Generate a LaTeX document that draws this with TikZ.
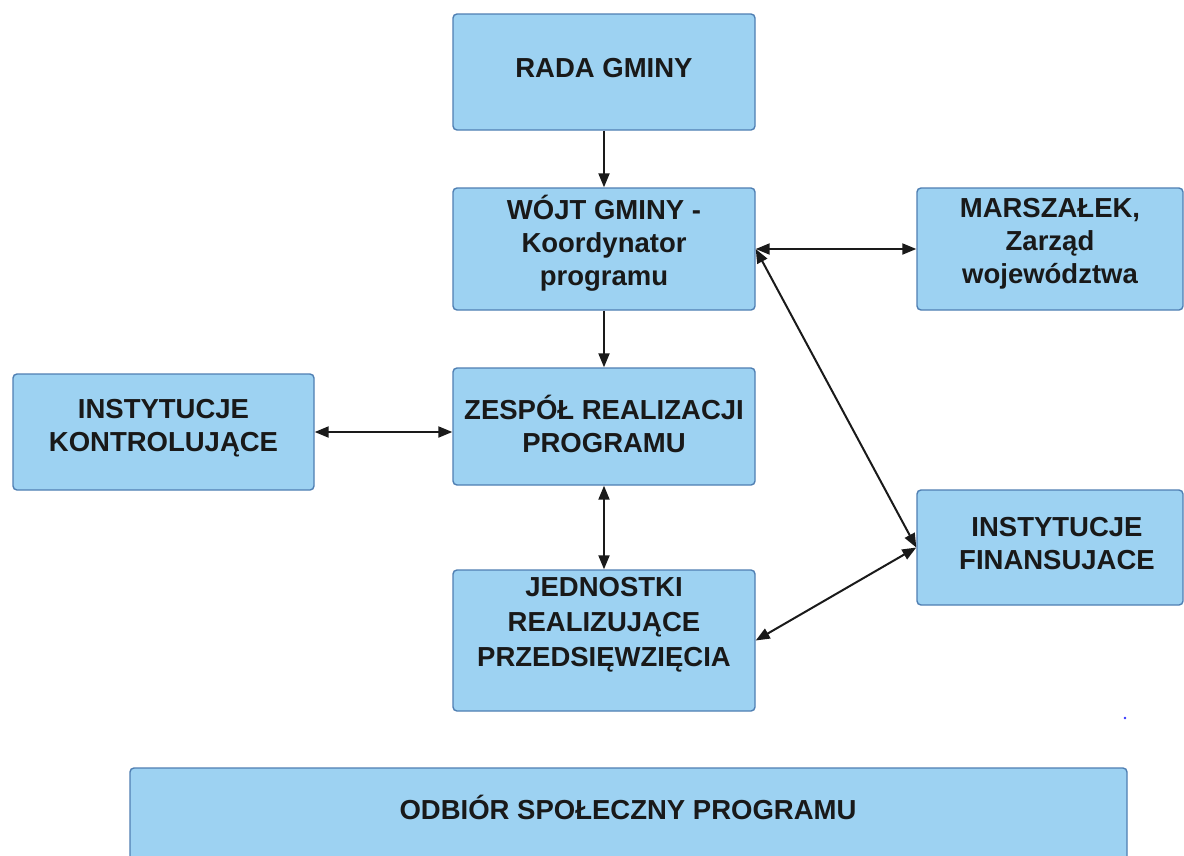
\documentclass[tikz,border=0pt]{standalone}
\usepackage{fontspec}
\setmainfont{Liberation Sans}
\usetikzlibrary{arrows.meta}
\definecolor{boxfill}{HTML}{9DD2F2}
\definecolor{boxline}{HTML}{4F7FB3}
\definecolor{arrcol}{HTML}{1A1A1A}
\tikzset{
  box/.style={draw=boxline, fill=boxfill, line width=1.4pt, rounded corners=4pt, inner sep=0pt},
  txt/.style={align=center, font=\fontsize{27.5}{33}\selectfont\bfseries, text=black!90, inner sep=0pt},
  tip/.tip={Triangle[length=14pt,width=11pt]},
  conn/.style={draw=arrcol, line width=2pt, -tip},
  conn2/.style={draw=arrcol, line width=2pt, tip-tip},
}
\begin{document}
\begin{tikzpicture}[x=1pt,y=-1pt]
\useasboundingbox (0,0) rectangle (1184,855);
\clip (0,0) rectangle (1184,855);
\fill[white] (0,0) rectangle (1184,855);
% boxes
\node[box, minimum width=302pt, minimum height=116pt] (rada) at (604,72) {};
\node[box, minimum width=302pt, minimum height=122pt] (wojt) at (604,249) {};
\node[box, minimum width=266pt, minimum height=122pt] (marsz) at (1050,249) {};
\node[box, minimum width=301pt, minimum height=116pt] (kontrol) at (163.5,432) {};
\node[box, minimum width=302pt, minimum height=117pt] (zespol) at (604,426.5) {};
\node[box, minimum width=302pt, minimum height=141pt] (jedn) at (604,640.5) {};
\node[box, minimum width=266pt, minimum height=115pt] (fin) at (1050,547.5) {};
\node[box, minimum width=997pt, minimum height=140pt] (odbior) at (628.5,838) {};
% texts
\node[txt] (rada-t) at (604,68) {RADA GMINY};
\node[txt] (wojt-t) at (604,243) {WÓJT GMINY -\\Koordynator\\programu};
\node[txt] (marsz-t) at (1050,244) {MARSZAŁEK,\\Zarząd\\województwa};
\node[txt] (kontrol-t) at (163.5,428) {INSTYTUCJE\\KONTROLUJĄCE};
\node[txt] (zespol-t) at (604,424) {ZESPÓŁ REALIZACJI\\PROGRAMU};
\node[txt, font=\fontsize{27.5}{35}\selectfont\bfseries] (jedn-t) at (604,625) {JEDNOSTKI\\REALIZUJĄCE\\PRZEDSIĘWZIĘCIA};
\node[txt] (fin-t) at (1057,544) {INSTYTUCJE\\FINANSUJACE};
\node[txt] (odbior-t) at (628,807) {ODBIÓR SPOŁECZNY PROGRAMU};
% connectors
\draw[conn] (rada.south) -- (wojt.north);
\draw[conn] (wojt.south) -- (zespol.north);
\draw[conn2] (wojt.east) -- (marsz.west);
\draw[conn2] (kontrol.east) -- (kontrol.east -| zespol.west);
\draw[conn2] (zespol.south) -- (jedn.north);
\draw[conn2] (wojt.east) -- (fin.west);
\draw[conn2] (jedn.east) -- (fin.west);
% stray dot
\coordinate (dot) at (1125,718);
\fill[blue!80] (dot) circle (1.3pt);
\end{tikzpicture}
\end{document}
